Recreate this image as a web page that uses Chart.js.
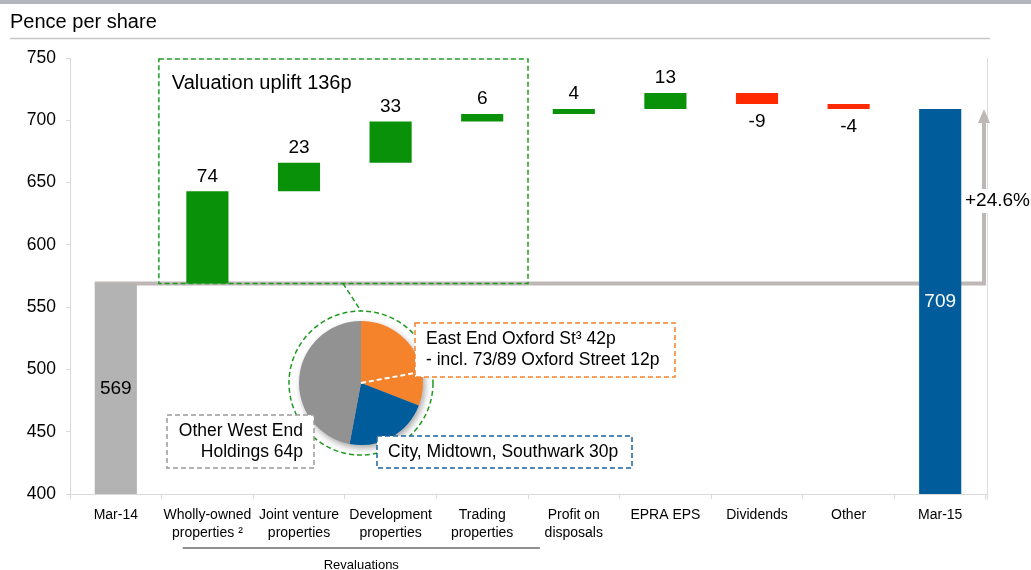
<!DOCTYPE html>
<html>
<head>
<meta charset="utf-8">
<script src="https://cdn.jsdelivr.net/npm/chart.js@4.4.0/dist/chart.umd.min.js"></script>
<style>
  html, body { margin: 0; padding: 0; background: #fff; }
  #wrap { position: relative; width: 1031px; height: 570px; }
  #pieCanvas { position: absolute; left: 291px; top: 313px; filter: drop-shadow(2px 3px 3px rgba(0,0,0,0.35)); }
  #mainCanvas { position: absolute; left: 0; top: 0; }
</style>
</head>
<body>
<div id="wrap">
  <canvas id="pieCanvas" width="140" height="140"></canvas>
  <canvas id="mainCanvas" width="1031" height="570"></canvas>
</div>
<script>
// 데이터
const categories = [
  ['Mar-14'], ['Wholly-owned', 'properties \u00B2'], ['Joint venture', 'properties'],
  ['Development', 'properties'], ['Trading', 'properties'], ['Profit on', 'disposals'],
  ['EPRA EPS'], ['Dividends'], ['Other'], ['Mar-15']
];
const startValue = 569;
const changes = [74, 23, 33, 6, 4, 13, -9, -4];
const endValue = 709;
const yMin = 400;
const yMax = 750;
const yStep = 50;

const pieLabels = ['East End Oxford St', '73/89 Oxford Street', 'City, Midtown, Southwark', 'Other West End Holdings'];
const pieValues = [30, 12, 30, 64];
const pieColors = ['#f5832c', '#f5832c', '#015c9b', '#929292'];

const colors = { start: '#b3b3b3', end: '#015c9b', up: '#0a910a', down: '#ff2a00' };

// 워터폴 구간 만들기
const floating = [[yMin, startValue]];
const barColors = [colors.start];
let running = startValue;
changes.forEach(c => {
  floating.push([running, running + c]);
  barColors.push(c >= 0 ? colors.up : colors.down);
  running += c;
});
floating.push([yMin, endValue]);
barColors.push(colors.end);

const FONT = '"Liberation Sans", Arial, sans-serif';

const decor = {
  id: 'decor',
  beforeDatasetsDraw(chart) {
    const { ctx, chartArea: a, scales: { x, y } } = chart;
    ctx.save();
    // 상단 회색 띠, 제목
    ctx.fillStyle = '#b4b4bc';
    ctx.fillRect(0, 0, 1031, 4);
    ctx.fillStyle = '#000';
    ctx.font = '20px ' + FONT;
    ctx.textBaseline = 'middle';
    ctx.fillText('Pence per share', 10, 22);
    ctx.strokeStyle = '#c8c8c8';
    ctx.lineWidth = 1.5;
    ctx.beginPath(); ctx.moveTo(10, 38.5); ctx.lineTo(990, 38.5); ctx.stroke();

    // 오른쪽 테두리
    ctx.strokeStyle = '#dcdcdc';
    ctx.lineWidth = 1;
    ctx.beginPath(); ctx.moveTo(a.right + 1.5, a.top); ctx.lineTo(a.right + 1.5, a.bottom + 6); ctx.stroke();

    // 기준선 (Mar-14) 과 화살표
    const baseY = y.getPixelForValue(startValue);
    const endY = y.getPixelForValue(endValue);
    const firstBar = chart.getDatasetMeta(0).data[0];
    const ax = a.right - 2;
    ctx.strokeStyle = '#bdb7b6';
    ctx.fillStyle = '#bdb7b6';
    ctx.lineWidth = 4;
    ctx.beginPath();
    ctx.moveTo(firstBar.x - firstBar.width / 2, baseY);
    ctx.lineTo(ax, baseY);
    ctx.lineTo(ax, endY + 12);
    ctx.stroke();
    ctx.beginPath();
    ctx.moveTo(ax - 6, endY + 14);
    ctx.lineTo(ax + 6, endY + 14);
    ctx.lineTo(ax, endY);
    ctx.closePath();
    ctx.fill();
    const pct = ((endValue / startValue - 1) * 100).toFixed(1);
    ctx.font = '19px ' + FONT;
    const label = '+' + pct + '%';
    const tw = ctx.measureText(label).width;
    ctx.fillStyle = '#fff';
    ctx.fillRect(ax - 20, 189, tw + 4, 24);
    ctx.fillStyle = '#000';
    ctx.textAlign = 'left';
    ctx.fillText(label, ax - 19, 201);
    ctx.restore();
  },
  afterDatasetsDraw(chart) {
    const { ctx, chartArea: a, scales: { x, y } } = chart;
    const meta = chart.getDatasetMeta(0);
    const catW = (a.right - a.left) / categories.length;
    ctx.save();

    // 값 라벨
    ctx.font = '19px ' + FONT;
    ctx.textAlign = 'center';
    ctx.textBaseline = 'middle';
    meta.data.forEach((bar, i) => {
      const top = Math.min(bar.y, bar.base);
      const bottom = Math.max(bar.y, bar.base);
      if (i === 0 || i === categories.length - 1) {
        ctx.fillStyle = i === 0 ? '#000' : '#fff';
        const v = i === 0 ? startValue : endValue;
        ctx.fillText(String(v), bar.x, (top + a.bottom) / 2);
      } else {
        const c = changes[i - 1];
        ctx.fillStyle = '#000';
        if (c >= 0) ctx.fillText(String(c), bar.x, top - 15);
        else ctx.fillText(String(c), bar.x, bottom + 18);
      }
    });

    // 재평가 점선 박스
    const uplift = changes.slice(0, 4).reduce((s, v) => s + v, 0);
    const bx1 = x.getPixelForValue(1) - catW * 0.53;
    const bx2 = x.getPixelForValue(4) + catW * 0.5;
    const by1 = a.top + 1;
    const by2 = y.getPixelForValue(startValue);
    ctx.setLineDash([5, 3]);
    ctx.strokeStyle = '#1f9a1f';
    ctx.lineWidth = 1.5;
    ctx.strokeRect(bx1, by1, bx2 - bx1, by2 - by1);
    ctx.fillStyle = '#000';
    ctx.textAlign = 'left';
    ctx.font = '20px ' + FONT;
    ctx.fillText('Valuation uplift ' + uplift + 'p', bx1 + 13, 83);

    // 파이 주변 점선 원과 연결선
    const pcx = 361, pcy = 383;
    ctx.beginPath(); ctx.arc(pcx, pcy, 72, 0, Math.PI * 2); ctx.stroke();
    ctx.beginPath(); ctx.moveTo(343, by2); ctx.lineTo(361, 311); ctx.stroke();

    // 주석 박스
    const box = (x0, y0, w, h, col, lines, align) => {
      ctx.setLineDash([5, 3]);
      ctx.fillStyle = '#fff';
      ctx.fillRect(x0, y0, w, h);
      ctx.strokeStyle = col;
      ctx.lineWidth = 1.5;
      ctx.strokeRect(x0, y0, w, h);
      ctx.fillStyle = '#000';
      ctx.font = '17.5px ' + FONT;
      ctx.textAlign = align;
      const n = lines.length;
      lines.forEach((t, k) => {
        const tx = align === 'right' ? x0 + w - 11 : x0 + 11;
        ctx.fillText(t, tx, y0 + h / 2 + (k - (n - 1) / 2) * 21);
      });
    };
    box(415, 323, 260, 54, '#f5832c', ['East End Oxford St\u00B3 ' + (pieValues[0] + pieValues[1]) + 'p', '- incl. 73/89 Oxford Street ' + pieValues[1] + 'p'], 'left');
    box(377, 436, 255, 32, '#1d64a0', ['City, Midtown, Southwark ' + pieValues[2] + 'p'], 'left');
    box(167, 415, 147, 53, '#9a9a9a', ['Other West End', 'Holdings ' + pieValues[3] + 'p'], 'right');

    // Revaluations 밑줄
    ctx.setLineDash([]);
    const rx1 = x.getPixelForValue(1) - catW * 0.27;
    const rx2 = x.getPixelForValue(4) + catW * 0.63;
    ctx.strokeStyle = '#222';
    ctx.lineWidth = 1.2;
    ctx.beginPath(); ctx.moveTo(rx1, 548); ctx.lineTo(rx2, 548); ctx.stroke();
    ctx.fillStyle = '#000';
    ctx.font = '13px ' + FONT;
    ctx.textAlign = 'center';
    ctx.fillText('Revaluations', (rx1 + rx2) / 2, 565);
    ctx.restore();
  }
};

document.addEventListener('DOMContentLoaded', () => {
  // 메인 워터폴 차트
  new Chart(document.getElementById('mainCanvas').getContext('2d'), {
    type: 'bar',
    data: {
      labels: categories,
      datasets: [{
        data: floating,
        backgroundColor: barColors,
        borderWidth: 0,
        barPercentage: 0.46,
        categoryPercentage: 1
      }]
    },
    options: {
      responsive: false,
      animation: false,
      devicePixelRatio: 1,
      layout: { padding: { top: 58, right: 45, left: 0, bottom: 0 } },
      plugins: { legend: { display: false }, tooltip: { enabled: false } },
      scales: {
        x: {
          afterFit: s => { s.height = 76; },
          grid: { offset: true, drawOnChartArea: false, drawTicks: true, tickLength: 5, color: '#d9d9d9' },
          border: { color: '#d9d9d9' },
          ticks: { color: '#000', font: { size: 14, family: FONT, lineHeight: 1.3 }, padding: 7, maxRotation: 0, autoSkip: false }
        },
        y: {
          min: yMin,
          max: yMax,
          afterFit: s => { s.width = 70; },
          grid: { drawOnChartArea: false, drawTicks: true, tickLength: 4, color: '#d9d9d9' },
          border: { color: '#d9d9d9' },
          ticks: { stepSize: yStep, color: '#000', font: { size: 17.5, family: FONT }, padding: 10 }
        }
      }
    },
    plugins: [decor]
  });

  // 파이 차트 (재평가 구성)
  const pieDivider = {
    id: 'pieDivider',
    afterDatasetsDraw(chart) {
      const arc = chart.getDatasetMeta(0).data[1];
      const { ctx } = chart;
      ctx.save();
      ctx.setLineDash([5, 3]);
      ctx.strokeStyle = '#fff';
      ctx.lineWidth = 2;
      ctx.beginPath();
      ctx.moveTo(arc.x, arc.y);
      ctx.lineTo(arc.x + Math.cos(arc.startAngle) * arc.outerRadius, arc.y + Math.sin(arc.startAngle) * arc.outerRadius);
      ctx.stroke();
      ctx.restore();
    }
  };
  new Chart(document.getElementById('pieCanvas').getContext('2d'), {
    type: 'pie',
    data: {
      labels: pieLabels,
      datasets: [{ data: pieValues, backgroundColor: pieColors, borderWidth: 0 }]
    },
    options: {
      responsive: false,
      animation: false,
      devicePixelRatio: 1,
      layout: { padding: 8 },
      plugins: { legend: { display: false }, tooltip: { enabled: false } }
    },
    plugins: [pieDivider]
  });
});
</script>
</body>
</html>
